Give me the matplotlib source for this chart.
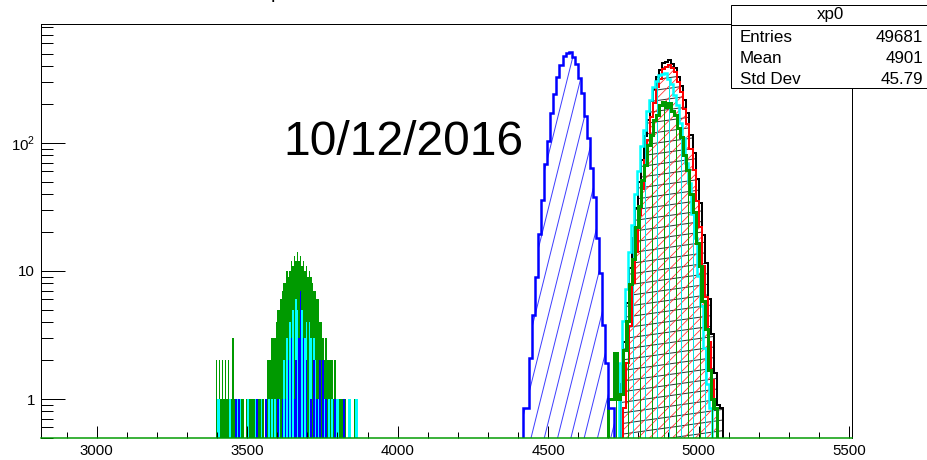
import numpy as np
import matplotlib
matplotlib.use("Agg")
import matplotlib.pyplot as plt
from matplotlib.collections import LineCollection
from matplotlib.transforms import IdentityTransform
from matplotlib.patches import Rectangle
from matplotlib.lines import Line2D
from matplotlib.ticker import MultipleLocator, FixedLocator, FixedFormatter, NullFormatter, LogLocator

plt.rcParams['font.family'] = ['Liberation Sans', 'DejaVu Sans']
plt.rcParams['mathtext.fontset'] = 'custom'
plt.rcParams['mathtext.rm'] = 'Liberation Sans'

W, H = 927, 460
DPI = 72

# histogram contents (entries per bin)
# main peaks, 10 wide bins
blue_start = 4418
blue = [0.85, 0.85, 2.1, 4.5, 9.0, 19.5, 36, 68, 104, 170, 240, 330, 405, 482, 505,
        518, 470, 412, 322, 246, 162, 110, 64, 38, 18, 9.6, 3.8, 1.9, 0.85, 0.85]

black_start = 4740
black = [1.3, 2.8, 5.6, 10.5, 18, 31, 50, 74, 113, 152, 212, 262, 328, 372, 418, 432, 445,
         416, 388, 330, 281, 216, 170, 116, 84, 52, 34, 19, 11.5, 6.0, 3.2, 1.6, 0.9, 0.85]

red_start = 4750
red = [0.85, 1.9, 3.7, 8.1, 14.2, 27.5, 44, 74, 106, 160, 207, 274, 318, 375, 392, 410,
       384, 358, 298, 250, 183, 140, 90, 62, 35, 22, 11, 6.3, 2.8, 1.4, 0.85]

cyan_start = 4735
cyan = [1.9, 4.1, 7.2, 14.2, 23, 40, 60, 95, 127, 178, 218, 274, 305, 342, 347, 350,
        318, 290, 236, 197, 143, 109, 70, 49, 28, 18, 9.2, 5.3, 2.5, 1.3, 0.85]

green_start = 4700
green = [1.0, 1.0, 2.3, 1.0, 1.1, 2.4, 4.1, 7.9, 12.5, 22, 32, 51, 67, 96, 116, 150, 166,
         197, 210, 192, 204, 178, 165, 131, 111, 80, 62, 40, 29, 16.5, 11, 5.8, 3.5,
         1.7, 1.0, 0.85]

# low region around 3680, 5 wide bins
low_start = 3390
green_low = [0, 2, 1, 2, 1, 2, 1, 2, 1, 2,
             1, 1, 3, 1, 1, 1, 1, 1, 1, 1,
             0, 1, 1, 1, 1, 1, 1, 1, 1, 1,
             1, 1, 1, 0, 1, 2, 2, 2, 3, 3,
             3, 4, 5, 5, 6, 7, 8, 8, 10, 9,
             10, 12, 11, 13, 12, 14, 12, 13, 11, 12,
             10, 11, 9, 10, 9, 8, 7, 7, 6, 6,
             4, 4, 3, 2, 3, 2, 2, 2, 2, 1,
             2, 1, 1, 1, 1, 1, 0, 1, 0, 0,
             1, 0, 0, 1, 0, 0, 0]
cyan_low = [0, 0, 1, 1, 0, 0, 0, 0, 0, 0,
            1, 0, 0, 0, 0, 1, 0, 1, 0, 0,
            0, 0, 1, 0, 0, 0, 0, 1, 0, 0,
            0, 1, 0, 0, 0, 0, 1, 0, 1, 0,
            1, 0, 0, 1, 0, 1, 2, 0, 3, 0,
            4, 3, 5, 0, 6, 5, 0, 4, 5, 0,
            3, 4, 0, 4, 3, 0, 3, 2, 0, 1,
            2, 0, 2, 1, 0, 0, 1, 0, 1, 0,
            0, 1, 1, 0, 0, 0, 0, 0, 0, 1,
            1, 0, 0, 0, 1, 1, 0]
blue_low = [0, 0, 0, 0, 0, 0, 0, 0, 0, 0,
            0, 0, 0, 0, 1, 0, 1, 0, 0, 0,
            0, 0, 0, 0, 0, 0, 0, 0, 1, 0,
            0, 0, 0, 0, 1, 0, 0, 0, 0, 0,
            0, 0, 1, 0, 0, 1, 0, 1, 0, 2,
            0, 3, 0, 1, 2, 0, 3, 7, 0, 3,
            0, 2, 0, 0, 1, 0, 2, 0, 1, 0,
            2, 0, 2, 0, 1, 0, 0, 0, 0, 0,
            1, 0, 0, 0, 0, 0, 1, 0, 0, 0,
            0, 0, 0, 0, 0, 0, 0]

stats_rows = [("Entries", "49681"), ("Mean", "4901"), ("Std Dev", "45.79")]

fig = plt.figure(figsize=(W / DPI, H / DPI), dpi=DPI)
ax = fig.add_axes([41 / W, 1 - 438 / H, (852 - 41) / W, (438 - 24) / H])
ax.set_yscale('log')
ax.set_xlim(2815, 5510)
ax.set_ylim(0.496, 850)

ident = IdentityTransform()


def edges(start, width, vals):
    return start + width * np.arange(len(vals) + 1)


def hatch(patch, angle, spacing, anchor, color, lw=1.0, alpha=1.0, z=2):
    # straight lines in pixel space, clipped to the histogram area
    th = np.deg2rad(angle)
    d = np.array([np.cos(th), np.sin(th)])
    n = np.array([-np.sin(th), np.cos(th)])
    p0 = np.array([anchor[0], H - anchor[1]])
    corners = np.array([[0, 0], [W, 0], [0, H], [W, H]]) - p0
    proj = corners @ n
    ks = np.arange(np.floor(proj.min() / spacing), np.ceil(proj.max() / spacing) + 1)
    segs = [[p0 + k * spacing * n - 1500 * d, p0 + k * spacing * n + 1500 * d] for k in ks]
    lc = LineCollection(segs, colors=color, linewidths=lw, alpha=alpha,
                        transform=ident, zorder=z)
    ax.add_collection(lc, autolim=False)
    lc.set_clip_path(patch)


def draw(start, width, vals, color, lw, z, hatch_kw=None, solid=False):
    e = edges(start, width, vals)
    v = np.asarray(vals, float)
    if solid:
        ax.stairs(v, e, baseline=0.01, fill=True, facecolor=color, edgecolor='none',
                  zorder=z)
        return
    area = ax.stairs(v, e, baseline=0.01, fill=True, facecolor='none',
                     edgecolor='none', zorder=z)
    if hatch_kw:
        hatch(area, z=z, **hatch_kw)
    ax.stairs(v, e, baseline=0.01, color=color, lw=lw, zorder=z + 0.5)


GREEN = '#009a00'

draw(low_start, 5, green_low, GREEN, 0, 1, solid=True)
draw(low_start, 5, cyan_low, '#00ffff', 0, 1.1, solid=True)
draw(low_start, 5, blue_low, '#0000ff', 0, 1.2, solid=True)

draw(black_start, 10, black, 'black', 2.0, 2,
     dict(angle=8, spacing=10.5, anchor=(667, 237), color='#333333', lw=1.0))
draw(red_start, 10, red, '#ff0000', 2.0, 3,
     dict(angle=45, spacing=8.1, anchor=(650, 300), color='#ff3030', lw=0.8))
draw(cyan_start, 10, cyan, '#00ffff', 2.5, 4,
     dict(angle=90, spacing=12, anchor=(633.3, 0), color='#00e5e5', lw=1.0))
draw(green_start, 10, green, GREEN, 3.0, 5,
     dict(angle=90, spacing=12, anchor=(640, 0), color=GREEN, lw=1.0))
draw(blue_start, 10, blue, '#0000ff', 2.5, 6,
     dict(angle=76, spacing=12.9, anchor=(533, 430), color='#0000ff', lw=1.0, alpha=0.75))

# axes, ROOT look
ax.xaxis.set_major_locator(MultipleLocator(500))
ax.xaxis.set_minor_locator(MultipleLocator(100))
ax.yaxis.set_major_locator(FixedLocator([1, 10, 100]))
ax.yaxis.set_major_formatter(FixedFormatter(['1', '10', r'$10^{2}$']))
ax.yaxis.set_minor_locator(LogLocator(base=10, subs=np.arange(2, 10), numticks=20))
ax.yaxis.set_minor_formatter(NullFormatter())
ax.tick_params(axis='x', which='major', direction='in', length=12, width=1, labelsize=15,
               pad=6, top=False, zorder=8)
ax.tick_params(axis='x', which='minor', direction='in', length=6, width=1, top=False)
ax.tick_params(axis='y', which='major', direction='in', length=24, width=1, labelsize=15,
               pad=6, right=False)
ax.tick_params(axis='y', which='minor', direction='in', length=12, width=1, right=False)
for side in ['left', 'top', 'right']:
    ax.spines[side].set_linewidth(1)
    ax.spines[side].set_zorder(9)
ax.spines['bottom'].set_color(GREEN)
ax.spines['bottom'].set_linewidth(1.5)
ax.spines['bottom'].set_zorder(9)

# title (only its descender shows, as in the reference) and date label
fig.text(262, H + 1.5, 'xp0', fontsize=20, va='baseline', ha='left', transform=ident)
fig.text(283, H - 155, '10/12/2016', fontsize=48, va='baseline', ha='left', transform=ident)

# stats box
fig.add_artist(Rectangle((731, H - 88), 200, 83, transform=ident, facecolor='white',
                         edgecolor='black', lw=1, zorder=10))
fig.add_artist(Line2D([731, 930], [H - 25, H - 25], transform=ident, color='black',
                      lw=1, zorder=11))
fig.text(830.5, H - 15, 'xp0', fontsize=17, ha='center', va='center', transform=ident,
         zorder=12)
for i, (name, val) in enumerate(stats_rows):
    y = H - (37 + 21.3 * i)
    fig.text(740, y, name, fontsize=17, ha='left', va='center', transform=ident, zorder=12)
    fig.text(923, y, val, fontsize=17, ha='right', va='center', transform=ident, zorder=12)

fig.savefig('out.png', dpi=DPI)
